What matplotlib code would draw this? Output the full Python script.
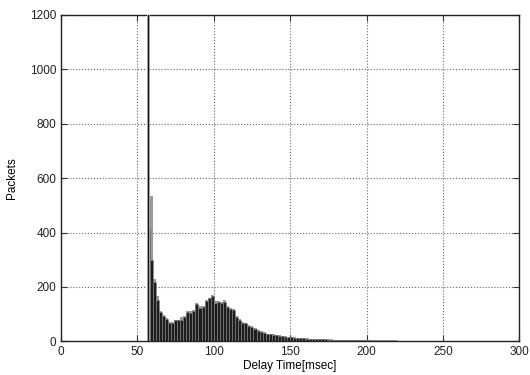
import numpy as np
import matplotlib.pyplot as plt

plt.rcParams['font.family'] = ['Liberation Sans', 'DejaVu Sans']

# 2 msec bins, left edges
bin_left = list(range(56, 282, 2))
black = [416, 298, 217, 150, 107, 92, 81, 66, 66, 77,
         77, 80, 88, 107, 105, 110, 136, 121, 125, 147,
         158, 166, 140, 144, 140, 144, 126, 118, 115, 88,
         77, 66, 66, 55, 52, 44, 37, 33, 30, 26,
         25, 22, 22, 20, 18, 17, 15, 14, 13, 12,
         11, 11, 10, 9, 9, 8, 8, 7, 7, 6,
         6, 5, 5, 5, 4, 4, 4, 4, 3, 3,
         3, 3, 3, 2, 2, 2, 2, 2, 2, 2,
         2, 2, 1, 1, 1, 1, 1, 1, 1, 1,
         1, 1, 1, 1, 1, 1, 1, 1, 1, 1,
         1, 1, 1, 1, 1, 1, 1, 1, 1, 1,
         1, 1, 1]
gray = [416, 534, 230, 165, 112, 95, 84, 70, 70, 80,
        79, 88, 92, 110, 112, 115, 140, 131, 131, 150,
        160, 170, 148, 147, 145, 150, 130, 122, 118, 92,
        82, 70, 68, 60, 56, 48, 40, 36, 33, 28,
        27, 25, 24, 22, 20, 18, 16, 15, 14, 13,
        12, 12, 11, 10, 10, 9, 9, 8, 8, 7,
        7, 6, 6, 6, 5, 5, 5, 5, 4, 4,
        4, 4, 4, 3, 3, 3, 3, 3, 3, 3,
        3, 3, 2, 2, 2, 2, 2, 2, 2, 2,
        2, 2, 2, 2, 2, 2, 2, 2, 2, 2,
        2, 2, 2, 2, 2, 2, 2, 2, 2, 2,
        2, 2, 2]
peak_x = [57.4]
peak_y = [2500]

fig, ax = plt.subplots(figsize=(5.3, 3.75), dpi=100)
fig.subplots_adjust(left=0.115, right=0.98, top=0.96, bottom=0.09)

ax.bar(bin_left, gray, width=2, align='edge', color='#9a9a9a', linewidth=0, zorder=2)
ax.bar(bin_left, black, width=2, align='edge', color='#1e1e1e',
       edgecolor='#8a8a8a', linewidth=0.4, zorder=3)
ax.bar(peak_x, peak_y, width=2.0, align='center', color='#a0a0a0',
       linewidth=0, zorder=4)
ax.bar(peak_x, peak_y, width=0.6, align='center', color='#111111',
       linewidth=0, zorder=5)

ax.set_xlim(0, 300)
ax.set_ylim(0, 1200)
ax.set_xticks(range(0, 301, 50))
ax.set_yticks(range(0, 1201, 200))
ax.grid(True, linestyle=':', color='#666666', linewidth=0.8, zorder=1)
ax.set_axisbelow(True)
ax.tick_params(direction='in', length=4, labelsize=8.5, top=True, right=True,
               color='#333333', labelcolor='#222222')
for s in ax.spines.values():
    s.set_linewidth(1.0)
    s.set_color('#222222')

ax.set_xlabel('Delay Time[msec]', fontsize=8.5, labelpad=1)
ax.set_ylabel('Packets', fontsize=8.5, labelpad=8)

fig.savefig('out.png', dpi=100)
